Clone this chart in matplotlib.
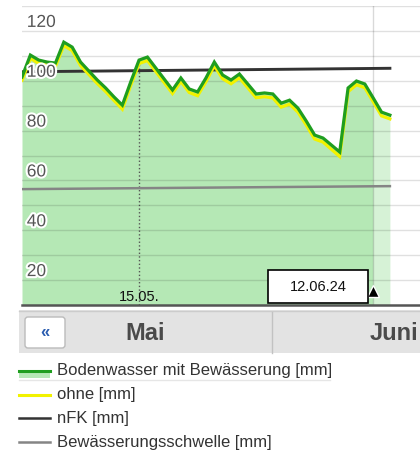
import matplotlib
matplotlib.use("Agg")
import matplotlib.pyplot as plt
import matplotlib.transforms as mtransforms
import matplotlib.patheffects as pe
from matplotlib.patches import Rectangle, FancyBboxPatch

plt.rcParams['font.family'] = ['Liberation Sans', 'DejaVu Sans']

# daily values, index 0 = 01.05.
days = list(range(45))
mit_bew = [101.5, 110.3, 108.3, 107.5, 107.1, 115.5, 113.5, 107.5, 103.9, 100.3,
           97.1, 93.5, 90.2, 99.5, 108.3, 109.5, 105.1, 100.7, 96.3, 101.1,
           96.7, 95.5, 101.1, 107.5, 102.3, 100.3, 102.7, 98.7, 94.7, 95.1,
           94.7, 91.0, 92.2, 89.0, 83.8, 78.2, 77.0, 74.2, 71.4, 97.1,
           99.9, 98.7, 93.1, 87.4, 86.2]
ohne = [100.2, 109.0, 107.0, 106.2, 105.8, 114.1, 112.1, 106.1, 102.5, 98.9,
        95.7, 92.1, 88.6, 98.1, 106.9, 108.1, 103.7, 99.3, 94.9, 99.7,
        95.3, 94.0, 99.6, 106.0, 100.8, 98.8, 101.2, 97.2, 93.2, 93.6,
        93.1, 89.4, 90.6, 87.4, 82.2, 76.6, 75.4, 72.5, 69.6, 95.6,
        98.4, 97.2, 91.6, 85.9, 84.7]
nfk_days = [0, 44]
nfk = [103.6, 105.0]
schwelle_days = [0, 44]
schwelle = [56.5, 57.7]

today_idx = 42       # 12.06.
marker_idx = 14      # 15.05.
y_labels = [120, 100, 80, 60, 40, 20]
grid_vals = list(range(20, 131, 10))
months = ['Mai', 'Juni']
legend_labels = ['Bodenwasser mit Bewässerung [mm]', 'ohne [mm]', 'nFK [mm]',
                 'Bewässerungsschwelle [mm]']

GREEN = '#1f9e1f'
FILL = '#b5e8b5'
FILL_LIGHT = '#d6f2d6'
YELLOW = '#f2f200'
NFK_C = '#333333'
SCHW_C = '#858585'

fig = plt.figure(figsize=(4.2, 4.5), dpi=100)
W, H = 420, 450
ax = fig.add_axes([22 / W, 1 - 305 / H, 398 / W, 299 / H])
ax.set_xlim(0, 47.6)
ax.set_ylim(10, 130)

ax.fill_between(days[:today_idx + 1], mit_bew[:today_idx + 1], 10, color=FILL, lw=0, zorder=1)
ax.fill_between(days[today_idx:], mit_bew[today_idx:], 10, color=FILL_LIGHT, lw=0, zorder=1)

ax.set_yticks(grid_vals)
ax.set_xticks([])
ax.grid(axis='y', color='black', alpha=0.12, lw=1)
ax.set_axisbelow(False)
ax.tick_params(left=False, labelleft=False)
for s in ['top', 'left', 'right']:
    ax.spines[s].set_visible(False)
ax.spines['bottom'].set_color('#555555')
ax.spines['bottom'].set_linewidth(1.8)
ax.spines['bottom'].set_zorder(6)

ax.axvline(today_idx, color='black', alpha=0.15, lw=1, zorder=2)
ax.vlines(marker_idx, 10, mit_bew[marker_idx], colors='#555555', linestyles=':', lw=1, zorder=2)

ax.plot(schwelle_days, schwelle, color=SCHW_C, lw=1.8, zorder=3)
ax.plot(nfk_days, nfk, color=NFK_C, lw=2.1, zorder=3)
ax.plot(days, ohne, color=YELLOW, lw=2.3, zorder=4, solid_joinstyle='miter')
ax.plot(days, mit_bew, color=GREEN, lw=2.3, zorder=5, solid_joinstyle='miter')

lab_tr = mtransforms.offset_copy(mtransforms.blended_transform_factory(ax.transAxes, ax.transData),
                                 fig=fig, y=1, units='dots')
for v in y_labels:
    ax.text(0.012, v, str(v), transform=lab_tr, ha='left', va='bottom', fontsize=12.5,
            color='#555555', zorder=7,
            path_effects=[pe.withStroke(linewidth=3, foreground='white')])

ax.text(marker_idx, 0.004, '15.05.', transform=ax.get_xaxis_transform(), ha='center',
        va='bottom', fontsize=10.5, color='#111111', zorder=7)
ax.plot([today_idx], [0.047], transform=ax.get_xaxis_transform(), marker='^', ms=9,
        color='black', mec='white', mew=1, zorder=8, clip_on=False)

# overlay in pixel coordinates for the UI parts
ov = fig.add_axes([0, 0, 1, 1])
ov.set_xlim(0, W)
ov.set_ylim(H, 0)
ov.axis('off')

ov.add_patch(Rectangle((268, 270), 100, 33, fc='white', ec='black', lw=1.2))
ov.text(318, 287, '12.06.24', ha='center', va='center', fontsize=10.5, color='#111111')

ov.add_patch(Rectangle((19, 310), 401, 43, fc='#e3e3e3', ec='none'))
ov.plot([19, 420], [310.5, 310.5], color='#cccccc', lw=1)
ov.plot([272, 272], [312, 353], color='#c2c2c2', lw=1)
ov.add_patch(FancyBboxPatch((25, 317), 40, 31, boxstyle='round,pad=0,rounding_size=3',
                            fc='white', ec='#bbbbbb', lw=1))
ov.text(45, 333, '«', ha='center', va='center', fontsize=12, fontweight='bold', color='#2a5db0')
ov.text(145, 333, months[0], ha='center', va='center', fontsize=17, fontweight='bold', color='#4a4a4a')
ov.text(370, 333, months[1], ha='left', va='center', fontsize=17, fontweight='bold', color='#4a4a4a')

leg_y = [371, 395, 418, 442]
leg_colors = [GREEN, YELLOW, NFK_C, SCHW_C]
ov.add_patch(Rectangle((19, 370), 31, 8, fc=FILL, ec='none'))
ov.plot([19, 330], [379.5, 379.5], color='#e6e6e6', lw=1)
for y, c, lab in zip(leg_y, leg_colors, legend_labels):
    ov.plot([19, 50], [y, y], color=c, lw=2.2 if c in (GREEN, YELLOW) else 1.8)
    ov.text(57, y, lab, ha='left', va='center', fontsize=12, color='#333333')

fig.savefig('out.png', dpi=100)
